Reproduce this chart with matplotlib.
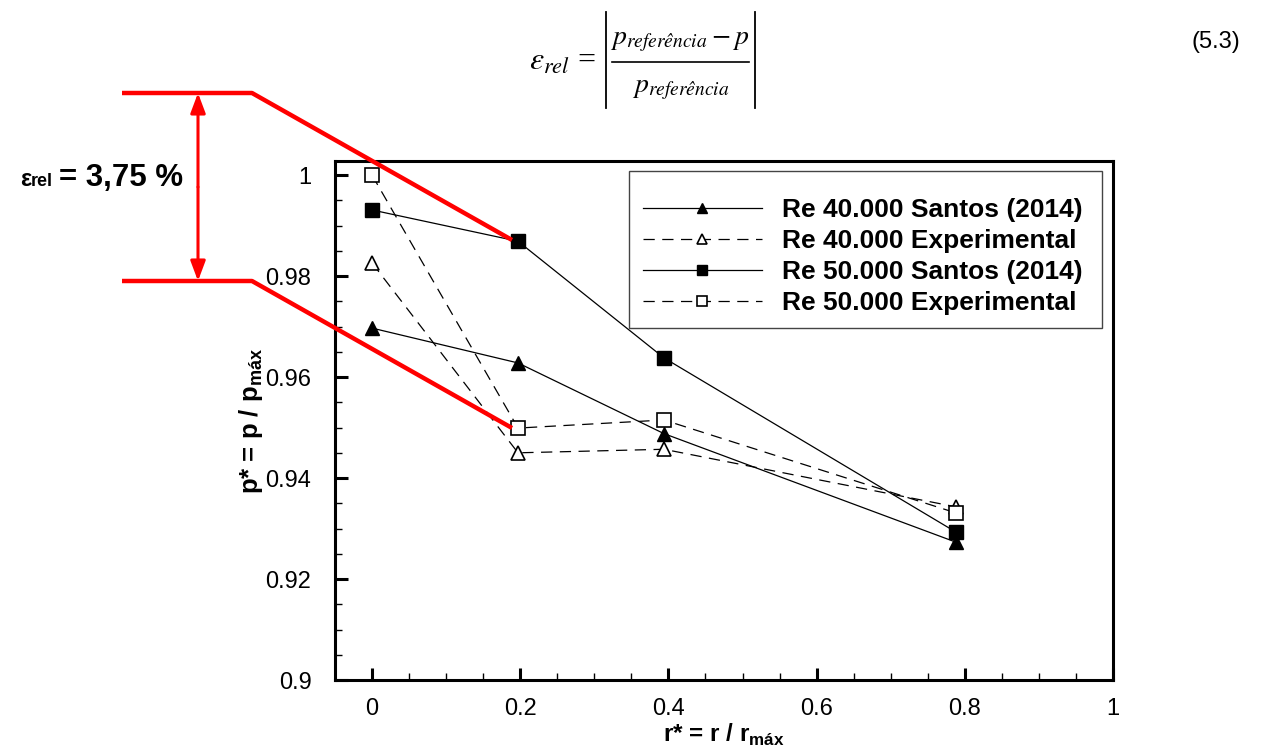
import matplotlib
matplotlib.use("Agg")
import matplotlib.pyplot as plt
from matplotlib.lines import Line2D
from matplotlib.patches import Rectangle

plt.rcParams['font.family'] = ['Liberation Sans', 'DejaVu Sans']
plt.rcParams['mathtext.fontset'] = 'custom'
plt.rcParams['mathtext.bf'] = 'Liberation Sans:bold'
plt.rcParams['mathtext.rm'] = 'Liberation Sans'

# ---- data ----
r_star = [0.0, 0.197, 0.394, 0.788]
re40_santos = [0.9697, 0.9628, 0.9488, 0.9273]
re40_exp = [0.9826, 0.9450, 0.9457, 0.9343]
re50_santos = [0.9931, 0.9869, 0.9638, 0.9293]
re50_exp = [1.0000, 0.9499, 0.9515, 0.9331]
labels = ["Re 40.000 Santos (2014)", "Re 40.000 Experimental",
          "Re 50.000 Santos (2014)", "Re 50.000 Experimental"]
x_ticks = [0, 0.2, 0.4, 0.6, 0.8, 1]
x_ticklabels = ["0", "0.2", "0.4", "0.6", "0.8", "1"]
y_ticks = [0.9, 0.92, 0.94, 0.96, 0.98, 1.0]
y_ticklabels = ["0.9", "0.92", "0.94", "0.96", "0.98", "1"]

W, H = 1264, 751
fig = plt.figure(figsize=(W / 100, H / 100), dpi=100)

ax = fig.add_axes([335 / W, 1 - 680 / H, (1113 - 335) / W, (680 - 161) / H])
ax.set_xlim(-0.05, 1.0)
ax.set_ylim(0.9, 1.0028)

dash = (9, 6)
ms = 9.5
ax.plot(r_star, re40_santos, '-', color='black', lw=0.9, marker='^', ms=ms, mfc='black', mec='black')
ax.plot(r_star, re40_exp, '--', color='black', lw=0.9, dashes=dash, marker='^', ms=ms, mfc='white', mec='black', mew=1.2)
ax.plot(r_star, re50_santos, '-', color='black', lw=0.9, marker='s', ms=ms, mfc='black', mec='black')
ax.plot(r_star, re50_exp, '--', color='black', lw=0.9, dashes=dash, marker='s', ms=ms, mfc='white', mec='black', mew=1.2)

for s in ax.spines.values():
    s.set_linewidth(2.2)

ax.set_xticks(x_ticks)
ax.set_xticklabels(x_ticklabels)
ax.set_yticks(y_ticks)
ax.set_yticklabels(y_ticklabels)
ax.set_xticks([v / 20 for v in range(0, 21) if v % 4 != 0], minor=True)
ax.set_yticks([0.9 + v * 0.005 for v in range(0, 21) if v % 4 != 0], minor=True)
ax.tick_params(which='major', direction='in', length=9, width=2.2, labelsize=17, top=False, right=False)
ax.tick_params(which='minor', direction='in', length=5, width=1.0, top=False, right=False)
ax.tick_params(axis='y', which='major', pad=17)
ax.tick_params(axis='x', which='major', pad=13)

ax.set_xlabel(r"r* = r / r$_{\mathbf{máx}}$", fontsize=17.5, fontweight='bold', labelpad=1)
ax.set_ylabel(r"p* = p / p$_{\mathbf{máx}}$", fontsize=18.5, fontweight='bold', labelpad=0)

handles = [
    Line2D([], [], color='black', lw=0.9, marker='^', ms=7, mfc='black', mec='black'),
    Line2D([], [], color='black', lw=0.9, ls='--', dashes=dash, marker='^', ms=7, mfc='white', mec='black', mew=1.2),
    Line2D([], [], color='black', lw=0.9, marker='s', ms=7, mfc='black', mec='black'),
    Line2D([], [], color='black', lw=0.9, ls='--', dashes=dash, marker='s', ms=7, mfc='white', mec='black', mew=1.2),
]
leg = ax.legend(handles, labels, loc='upper left',
                bbox_to_anchor=(643 / W, 1 - 198 / H), bbox_transform=fig.transFigure,
                prop={'family': 'Liberation Sans', 'weight': 'bold', 'size': 19},
                handlelength=4.5, handletextpad=0.75, labelspacing=0.27,
                borderpad=0, borderaxespad=0, frameon=False)

# ---- overlay for annotation in pixel coordinates ----
ov = fig.add_axes([0, 0, 1, 1], facecolor='none')
ov.set_xlim(0, W)
ov.set_ylim(H, 0)
ov.axis('off')
# legend frame
ov.add_patch(Rectangle((629, 171), 1102 - 629, 328 - 171, fill=False, edgecolor='#444444', lw=1.0))

red = '#ff0000'
ov.plot([122, 252, 512], [93, 93, 240], color=red, lw=3.2, solid_capstyle='butt')
ov.plot([122, 252, 512], [281, 281, 428], color=red, lw=3.2, solid_capstyle='butt')
ov.annotate('', xy=(198, 93), xytext=(198, 187),
            arrowprops=dict(arrowstyle='-|>,head_length=1.2,head_width=0.45', color=red, lw=2.2, shrinkA=0, shrinkB=0))
ov.annotate('', xy=(198, 281), xytext=(198, 187),
            arrowprops=dict(arrowstyle='-|>,head_length=1.2,head_width=0.45', color=red, lw=2.2, shrinkA=0, shrinkB=0))
ov.text(183, 186, "= 3,75 %", fontsize=22.5, fontweight='bold', ha='right', va='baseline')
ov.text(31, 186, "\u03b5", fontsize=17, fontweight='bold', ha='right', va='baseline')
ov.text(31, 186, "rel", fontsize=13, fontweight='bold', ha='left', va='baseline')

# ---- equation ----
ov.text(596, 70, r"$\varepsilon_{rel}$ =", fontsize=23, ha='right', va='baseline',
        math_fontfamily='stix', family='Liberation Serif')
ov.text(680, 44, r"$p_{referência} - p$", fontsize=20, ha='center', va='baseline',
        math_fontfamily='stix')
ov.text(681, 92, r"$p_{referência}$", fontsize=20, ha='center', va='baseline',
        math_fontfamily='stix')
ov.plot([612, 749], [62, 62], color='black', lw=1.2)
ov.plot([606, 606], [12, 108], color='black', lw=1.3)
ov.plot([755, 755], [12, 108], color='black', lw=1.3)
fig.text(1240 / W, 1 - 42 / H, "(5.3)", fontsize=17, ha='right', va='center')

fig.savefig("out.png", dpi=100)
